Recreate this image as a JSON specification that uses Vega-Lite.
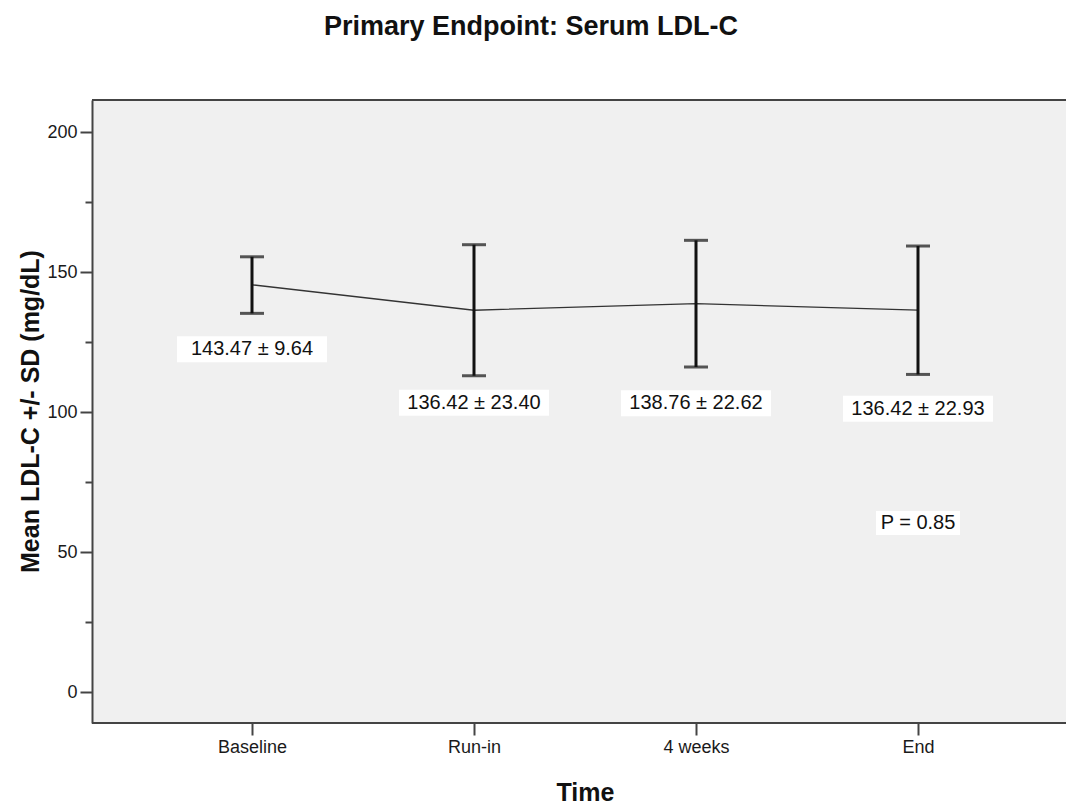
{
  "$schema": "https://vega.github.io/schema/vega-lite/v6.json",
  "width": 974,
  "height": 623,
  "autosize": {"type": "none"},
  "padding": {"left": 92, "top": 100, "right": 0, "bottom": 81},
  "background": "white",
  "title": {"text": "Primary Endpoint: Serum LDL-C", "fontSize": 27, "fontWeight": "bold", "font": "Liberation Sans", "color": "#111", "anchor": "middle", "frame": "group", "dx": -48, "offset": 37, "baseline": "alphabetic"},
  "config": {"font": "Liberation Sans", "view": {"fill": "#f0f0f0", "stroke": null}},
  "datasets": {
    "summary": [
      {"time": "Baseline", "mean": 145.5, "lo": 135.3, "hi": 155.5, "label": "143.47 ± 9.64", "label_y": 122.5},
      {"time": "Run-in", "mean": 136.42, "lo": 113.02, "hi": 159.82, "label": "136.42 ± 23.40", "label_y": 103.4},
      {"time": "4 weeks", "mean": 138.76, "lo": 116.14, "hi": 161.38, "label": "138.76 ± 22.62", "label_y": 103.2},
      {"time": "End", "mean": 136.42, "lo": 113.49, "hi": 159.35, "label": "136.42 ± 22.93", "label_y": 101.2}
    ],
    "pval": [
      {"time": "End", "y": 60.4, "label": "P = 0.85"}
    ]
  },
  "data": {"name": "summary"},
  "layer": [
    {
      "mark": {"type": "line", "color": "#333", "strokeWidth": 1.3},
      "encoding": {
        "x": {
          "field": "time", "type": "nominal", "sort": ["Baseline", "Run-in", "4 weeks", "End"],
          "scale": {"type": "point", "range": [160, 826], "padding": 0},
          "axis": {"title": "Time", "labelAngle": 0, "labelFontSize": 18, "labelColor": "#1a1a1a", "tickSize": 12, "tickWidth": 2, "tickColor": "#444", "domain": false, "labelPadding": 3, "titleFontSize": 25, "titleFontWeight": "bold", "titleColor": "#111", "titleY": 77, "titleBaseline": "alphabetic"}
        },
        "y": {
          "field": "mean", "type": "quantitative", "title": "Mean LDL-C +/- SD (mg/dL)",
          "scale": {"domain": [-11, 211.5], "nice": false, "zero": false},
          "axis": {
            "values": [0, 25, 50, 75, 100, 125, 150, 175, 200],
            "labelExpr": "datum.value % 50 === 0 ? datum.label : ''",
            "tickSize": {"condition": {"test": "datum.value % 50 === 0", "value": 12}, "value": 7},
            "tickWidth": 2, "tickColor": "#444", "domain": true, "domainColor": "#444", "domainWidth": 2, "grid": false,
            "labelFontSize": 18, "labelColor": "#1a1a1a", "labelPadding": 3,
            "titleFontSize": 25, "titleFontWeight": "bold", "titleColor": "#111",
            "titleX": -62, "titleY": 311, "titleAlign": "center", "titleBaseline": "middle", "titleAngle": -90
          }
        }
      }
    },
    {
      "mark": {"type": "rule", "color": "#444", "strokeWidth": 2},
      "encoding": {"y": {"datum": 211.5, "type": "quantitative", "title": "Mean LDL-C +/- SD (mg/dL)"}}
    },
    {
      "mark": {"type": "rule", "color": "#444", "strokeWidth": 2},
      "encoding": {"y": {"datum": -11, "type": "quantitative", "title": "Mean LDL-C +/- SD (mg/dL)"}}
    },
    {
      "mark": {"type": "rule", "color": "#111", "strokeWidth": 3},
      "encoding": {
        "x": {"field": "time", "type": "nominal", "sort": ["Baseline", "Run-in", "4 weeks", "End"]},
        "y": {"field": "lo", "type": "quantitative", "title": "Mean LDL-C +/- SD (mg/dL)"},
        "y2": {"field": "hi"}
      }
    },
    {
      "mark": {"type": "tick", "orient": "horizontal", "size": 24, "thickness": 3, "color": "#111"},
      "encoding": {
        "x": {"field": "time", "type": "nominal", "sort": ["Baseline", "Run-in", "4 weeks", "End"]},
        "y": {"field": "lo", "type": "quantitative", "title": "Mean LDL-C +/- SD (mg/dL)"}
      }
    },
    {
      "mark": {"type": "tick", "orient": "horizontal", "size": 24, "thickness": 3, "color": "#111"},
      "encoding": {
        "x": {"field": "time", "type": "nominal", "sort": ["Baseline", "Run-in", "4 weeks", "End"]},
        "y": {"field": "hi", "type": "quantitative", "title": "Mean LDL-C +/- SD (mg/dL)"}
      }
    },
    {
      "mark": {"type": "point", "shape": "M-1,-0.173L1,-0.173L1,0.173L-1,0.173Z", "size": 22500, "filled": true, "fill": "white", "opacity": 1, "strokeWidth": 0},
      "encoding": {
        "x": {"field": "time", "type": "nominal", "sort": ["Baseline", "Run-in", "4 weeks", "End"]},
        "y": {"field": "label_y", "type": "quantitative", "title": "Mean LDL-C +/- SD (mg/dL)"}
      }
    },
    {
      "mark": {"type": "text", "fontSize": 20, "color": "#111", "baseline": "middle", "align": "center"},
      "encoding": {
        "x": {"field": "time", "type": "nominal", "sort": ["Baseline", "Run-in", "4 weeks", "End"]},
        "y": {"field": "label_y", "type": "quantitative", "title": "Mean LDL-C +/- SD (mg/dL)"},
        "text": {"field": "label"}
      }
    },
    {
      "data": {"name": "pval"},
      "mark": {"type": "point", "shape": "M-1,-0.286L1,-0.286L1,0.286L-1,0.286Z", "size": 7056, "filled": true, "fill": "white", "opacity": 1, "strokeWidth": 0},
      "encoding": {
        "x": {"field": "time", "type": "nominal", "sort": ["Baseline", "Run-in", "4 weeks", "End"]},
        "y": {"field": "y", "type": "quantitative", "title": "Mean LDL-C +/- SD (mg/dL)"}
      }
    },
    {
      "data": {"name": "pval"},
      "mark": {"type": "text", "fontSize": 20, "color": "#111", "baseline": "middle", "align": "center"},
      "encoding": {
        "x": {"field": "time", "type": "nominal", "sort": ["Baseline", "Run-in", "4 weeks", "End"]},
        "y": {"field": "y", "type": "quantitative", "title": "Mean LDL-C +/- SD (mg/dL)"},
        "text": {"field": "label"}
      }
    }
  ]
}
